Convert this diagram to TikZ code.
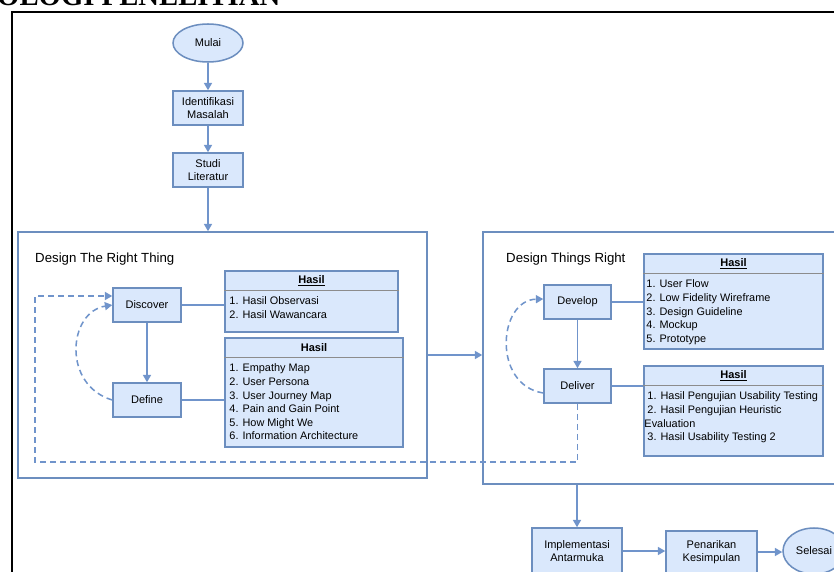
\documentclass[tikz,border=0pt]{standalone}
\usepackage{fontspec}
\setmainfont{Liberation Sans}
\newfontfamily\headserif{Liberation Serif}
\usetikzlibrary{arrows.meta,shapes.geometric}

\definecolor{boxfill}{HTML}{DAE8FC}
\definecolor{boxline}{HTML}{6C8EBF}
\definecolor{flowline}{HTML}{7094CB}
\definecolor{rulegray}{HTML}{8C8C8C}

\tikzset{
  tip/.tip={Triangle[length=2.2mm,width=2.4mm]},
  stepbox/.style={draw=boxline, fill=boxfill, line width=1.3pt, align=center,
    inner sep=0pt, font=\fontsize{9.4}{11.4}\selectfont},
  terminal/.style={stepbox, ellipse},
  phase/.style={draw=boxline, fill=white, line width=1.3pt, inner sep=0pt},
  phasetitle/.style={inner sep=0pt, anchor=base west, font=\fontsize{11.3}{13}\selectfont},
  hasilbox/.style={draw=boxline, fill=boxfill, line width=1.3pt, inner sep=0pt},
  hasiltitle/.style={inner sep=0pt, font=\bfseries\fontsize{9.4}{11}\selectfont},
  item/.style={inner sep=0pt, anchor=base west, font=\fontsize{9.3}{11}\selectfont},
  sep/.style={draw=rulegray, line width=1.1pt},
  flow/.style={draw=flowline, line width=1.3pt, -tip},
  link/.style={draw=flowline, line width=1.3pt},
  loopline/.style={draw=flowline, line width=1.3pt, dash pattern=on 1.8mm off 1.2mm, -tip},
}

\begin{document}
\begin{tikzpicture}[x=0.3mm, y=-0.3mm]
\useasboundingbox (0,0) rectangle (834,571);
\clip (0,0) rectangle (834,571);

% chapter heading and page frame
\node[font=\headserif\bfseries\fontsize{24.5}{26}\selectfont, anchor=base west, inner sep=0pt]
  (ttl) at (-3,5.5) {OLOGI PENELITIAN};
\draw[line width=1.5pt] (12,600) -- (12,12) -- (860,12);

% opening steps
\node[terminal, minimum width=21mm, minimum height=11.4mm] (mulai) at (208,43) {Mulai};
\node[stepbox, minimum width=21mm, minimum height=10.2mm] (ident) at (208,108) {Identifikasi\\Masalah};
\node[stepbox, minimum width=21mm, minimum height=10.2mm] (studi) at (208,170) {Studi\\Literatur};

% the two phases
\node[phase, minimum width=122.7mm, minimum height=73.8mm] (dtrt) at (222.5,355) {};
\node[phase, minimum width=110.1mm, minimum height=75.6mm] (dtr) at (666.5,358) {};
\node[phasetitle] (dtrtT) at (35,262) {Design The Right Thing};
\node[phasetitle] (dtrT) at (506,262) {Design Things Right};

% Design The Right Thing
\node[stepbox, minimum width=20.4mm, minimum height=10.2mm] (discover) at (147,305) {Discover};
\node[stepbox, minimum width=20.4mm, minimum height=10.2mm] (define) at (147,400) {Define};

\node[hasilbox, minimum width=51.9mm, minimum height=18.3mm] (h1) at (311.5,301.5) {};
\node[hasilbox, minimum width=53.4mm, minimum height=32.7mm] (h2) at (314,392.5) {};

% Design Things Right
\node[stepbox, minimum width=20.1mm, minimum height=10.2mm] (develop) at (577.5,302) {Develop};
\node[stepbox, minimum width=20.1mm, minimum height=10.2mm] (deliver) at (577.5,386) {Deliver};

\node[hasilbox, minimum width=53.7mm, minimum height=28.5mm] (h3) at (733.5,301.5) {};
\node[hasilbox, minimum width=53.7mm, minimum height=27mm] (h4) at (733.5,411) {};

% result box headers
\foreach \b in {h1,h2,h3,h4}
  \draw[sep] ([yshift=-6mm]\b.north west) -- ([yshift=-6mm]\b.north east);
\node[hasiltitle] (h1t) at ([yshift=-3mm]h1.north) {\underline{Hasil}};
\node[hasiltitle] (h2t) at ([yshift=-3mm]h2.north) {Hasil};
\node[hasiltitle] (h3t) at ([yshift=-3mm]h3.north) {\underline{Hasil}};
\node[hasiltitle] (h4t) at ([yshift=-3mm]h4.north) {\underline{Hasil}};

% result lists
\foreach \t [count=\i] in {1. Hasil Observasi, 2. Hasil Wawancara}
  \node[item] (h1-\i) at ([shift={(5,21+13.6*\i)}]h1.north west) {\t};
\foreach \t [count=\i] in {1. Empathy Map, 2. User Persona, 3. User Journey Map,
    4. Pain and Gain Point, 5. How Might We, 6. Information Architecture}
  \node[item] (h2-\i) at ([shift={(5,21+13.6*\i)}]h2.north west) {\t};
\foreach \t [count=\i] in {1. User Flow, 2. Low Fidelity Wireframe, 3. Design Guideline,
    4. Mockup, 5. Prototype}
  \node[item] (h3-\i) at ([shift={(3,21+13.6*\i)}]h3.north west) {\t};
\foreach \t/\dx [count=\i] in {1. Hasil Pengujian Usability Testing/4,
    2. Hasil Pengujian Heuristic/4, Evaluation/1, 3. Hasil Usability Testing 2/4}
  \node[item] (h4-\i) at ([shift={(\dx,21+13.6*\i)}]h4.north west) {\t};

% closing steps
\node[stepbox, minimum width=27mm, minimum height=13.8mm] (impl) at (577,551) {Implementasi\\Antarmuka};
\node[stepbox, minimum width=27.3mm, minimum height=12.6mm] (pen) at (711.5,552) {Penarikan\\Kesimpulan};
\node[terminal, minimum width=18.6mm, minimum height=13.8mm] (sel) at (814,551) {Selesai};

% main flow
\draw[flow] (mulai) -- (ident);
\draw[flow] (ident) -- (studi);
\draw[flow] (studi.south) -- (studi.south |- dtrt.north);
\draw[flow] (discover) -- (define);
\draw[link] (discover.east) -- (discover.east -| h1.west);
\draw[link] (define.east) -- (define.east -| h2.west);
\draw[flow] (dtrt.east) -- (dtrt.east -| dtr.west);
\draw[flow] (develop) -- (deliver);
\draw[link] (develop.east) -- (develop.east -| h3.west);
\draw[link] (deliver.east) -- (deliver.east -| h4.west);
\draw[flow] (impl.north |- dtr.south) -- (impl.north);
\draw[flow] (impl.east) -- (impl.east -| pen.west);
\draw[flow] (pen.east) -- (pen.east -| sel.west);

% iteration loops
\coordinate (loopR) at (577.5,462);
\coordinate (loopL) at (35,462);
\coordinate (loopT) at (35,296);
\draw[loopline] (deliver.south) -- (loopR) -- (loopL) -- (loopT) -- (loopT -| discover.west);
\draw[loopline] (define.west) .. controls (62,385) and (68,312) .. (discover.west);
\draw[loopline] ([yshift=-2.1mm]deliver.west) .. controls (492,385) and (498,300) .. ([yshift=0.9mm]develop.west);
\end{tikzpicture}
\end{document}
